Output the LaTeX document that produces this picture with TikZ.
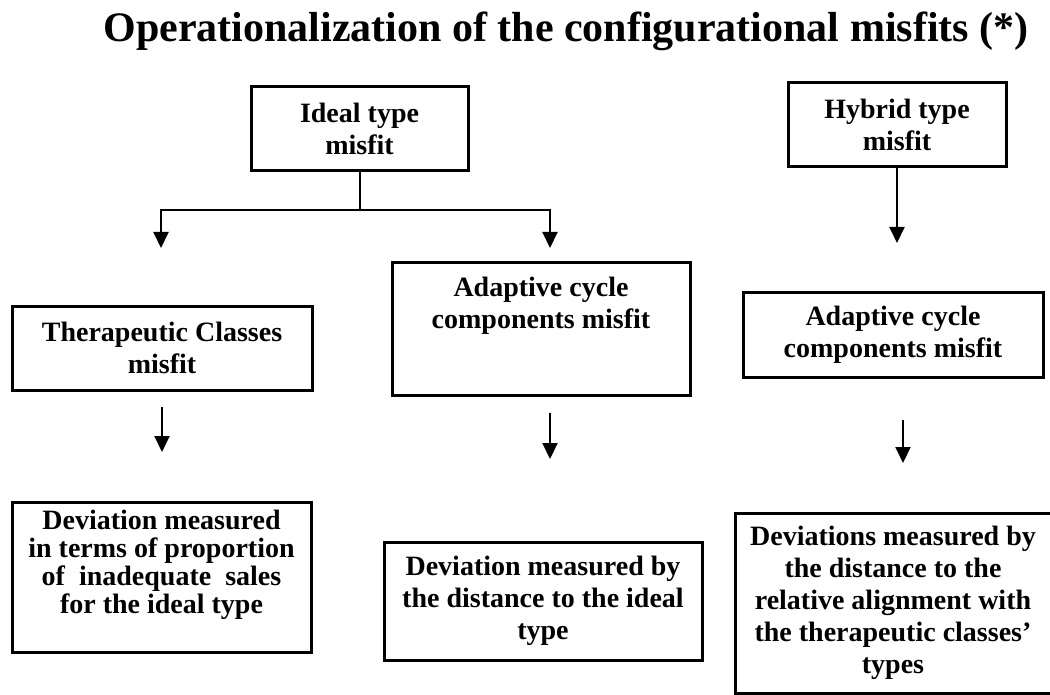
\documentclass[tikz,border=0pt]{standalone}
\usepackage{fontspec}
\setmainfont{Liberation Serif}
\usetikzlibrary{arrows.meta}
\tikzset{
    misfit-box/.style = {draw=black, line width=3pt, rectangle, inner sep=0pt, align=center, font=\fontsize{28}{32}\selectfont\bfseries},
    box-text/.style = {inner sep=0pt, align=center, font=\fontsize{28}{32}\selectfont\bfseries},
    flow-arrow/.style = {line width=2pt, -{Triangle[width=15pt,length=16pt]}},
    title-text/.style = {inner sep=0pt, font=\fontsize{42}{50}\selectfont\bfseries},
}

\begin{document}
\begin{tikzpicture}[x=1pt, y=-1pt]
\useasboundingbox (0,0) rectangle (1050,695);
\node[title-text, anchor=base] (title) at (566,42) {Operationalization of the configurational misfits (*)};

% first level
\node[misfit-box, minimum width=217, minimum height=84] (ideal) at (359.5,129) {Ideal type\\misfit};
\node[misfit-box, minimum width=218, minimum height=84] (hybrid) at (897,125) {Hybrid type\\misfit};

% second level
\node[misfit-box, minimum width=300, minimum height=84] (classes) at (162,348) {Therapeutic Classes\\misfit};
\node[misfit-box, minimum width=298, minimum height=132] (cycle-ideal) at (541,329) {};
\node[box-text, anchor=north] (cycle-ideal-text) at ([yshift=-15pt]cycle-ideal.north) {Adaptive cycle\\components misfit};
\node[misfit-box, minimum width=300, minimum height=84] (cycle-hybrid) at (893,335) {Adaptive cycle\\components misfit};

% measures
\node[misfit-box, minimum width=299, minimum height=150] (dev-classes) at (161.5,577) {};
\node[box-text, anchor=north, font=\fontsize{28}{28}\selectfont\bfseries] (dev-classes-text) at ([yshift=-9pt]dev-classes.north) {Deviation measured\\in terms of proportion\\of\ \ inadequate\ \ sales\\for the ideal type};
\node[misfit-box, minimum width=318, minimum height=118] (dev-ideal) at (543,601) {Deviation measured by\\the distance to the ideal\\type};
\node[misfit-box, minimum width=316, minimum height=180] (dev-hybrid) at (893,603) {Deviations measured by\\the distance to the\\relative alignment with\\the therapeutic classes'\\types};

% connectors
\coordinate (split) at (359.5,210);
\coordinate (to-classes) at (161,248);
\coordinate (to-cycle) at (550,248);
\coordinate (to-cycle-hybrid) at (897,243);
\draw[line width=2pt] (ideal.south) -- (split);
\draw[flow-arrow] (split) -| (to-classes);
\draw[flow-arrow] (split) -| (to-cycle);
\draw[flow-arrow] (hybrid.south) -- (to-cycle-hybrid);

\coordinate (classes-out) at (162,407);
\coordinate (classes-in) at (162,452);
\coordinate (cycle-ideal-out) at (550,413);
\coordinate (cycle-ideal-in) at (550,459);
\coordinate (cycle-hybrid-out) at (903,420);
\coordinate (cycle-hybrid-in) at (903,463);
\draw[flow-arrow] (classes-out) -- (classes-in);
\draw[flow-arrow] (cycle-ideal-out) -- (cycle-ideal-in);
\draw[flow-arrow] (cycle-hybrid-out) -- (cycle-hybrid-in);
\end{tikzpicture}
\end{document}
